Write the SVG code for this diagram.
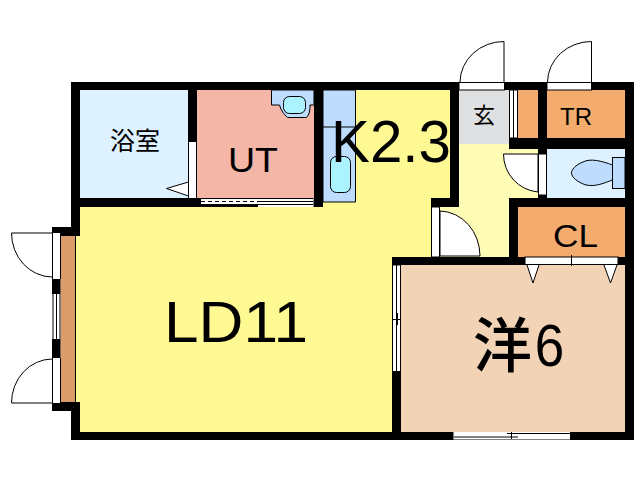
<svg xmlns="http://www.w3.org/2000/svg" width="640" height="480" viewBox="0 0 640 480">
<style>
.w{fill:#000}
.o{fill:#fff}
.l{fill:none;stroke:#000;stroke-width:1}
.d{fill:#fff;stroke:#000;stroke-width:1}
.t{fill:#000;font-family:"Liberation Sans","Noto Sans CJK JP",sans-serif;text-anchor:middle}
.j{font-family:"Noto Sans CJK JP",sans-serif}
</style>
<rect width="640" height="480" fill="#fff"/>
<g id="rooms">
<rect id="bath" x="80" y="90" width="108" height="108" fill="#DDF1FF"/>
<rect id="ut" x="197" y="90" width="117" height="108" fill="#F4B7A7"/>
<path id="ld" d="M76 207H323V90H450V198H431V257H392V432H76Z" fill="#FFF994"/>
<path id="hall" d="M459 144H509V149H538V198H509V257H431V207H459Z" fill="#FFFDB5"/>
<rect id="genkan" x="459" y="90" width="50" height="54" fill="#DFE0E2"/>
<rect id="closet1" x="518" y="90" width="20" height="50" fill="#F4AB6E"/>
<rect id="tr" x="547" y="90" width="78" height="50" fill="#F4AB6E"/>
<rect id="toilet" x="547" y="149" width="78" height="49" fill="#DDF1FF"/>
<rect id="cl" x="518" y="207" width="107" height="50" fill="#F4AB6E"/>
<rect id="west" x="401" y="265" width="224" height="167" fill="#F2D3B6"/>
<rect id="storage" x="60.500" y="236" width="15" height="166" fill="#DB9C6B"/>
<path d="M75.500 236V402" class="l"/>
</g>
<g id="fixtures">
<path d="M323 90H355.500V202H323Z" fill="#BDDCFE" stroke="#000"/>
<path d="M323 127H355.500" class="l"/>
<rect x="330.500" y="156.500" width="20" height="36" rx="6" fill="#ABF3FF" stroke="#000"/>
<path d="M271.500 90V105H279.500C281 111 284 114 287.500 117.500H306.500C309.500 115 310 110 310 105H314V90Z" fill="#BDDCFE" stroke="#000"/>
<rect x="283.500" y="96.500" width="22" height="17" rx="6" fill="#ABF3FF" stroke="#000"/>
<rect x="612.500" y="157.500" width="12.500" height="31" fill="#BDDCFE" stroke="#000"/>
<path d="M612.500 165C602 161 590 158 583 162C575 165 571.500 170 571.500 173C571.500 177 577 182 586 185C596 187 604 183 612.500 180Z" fill="#BDDCFE" stroke="#000"/>
<path d="M188.500 182L166.500 188.500L188.500 196Z" class="d"/>
</g>
<g id="walls" class="w">
<rect x="71" y="82" width="563" height="8"/>
<rect x="625" y="82" width="9" height="358"/>
<rect x="71" y="432" width="563" height="8"/>
<rect x="71" y="82" width="9" height="154"/>
<rect x="71" y="402" width="9" height="38"/>
<rect x="52" y="227" width="28" height="9"/>
<rect x="52" y="402" width="28" height="9"/>
<rect x="52" y="279" width="8.500" height="15"/>
<rect x="52" y="339" width="8.500" height="19"/>
<rect x="188" y="82" width="9" height="60"/>
<rect x="80" y="198" width="243" height="9"/>
<rect x="314" y="82" width="9" height="125"/>
<rect x="450" y="82" width="9" height="125"/>
<rect x="431" y="198" width="28" height="9"/>
<rect x="392" y="257" width="242" height="8"/>
<rect x="392" y="257" width="9" height="183"/>
<rect x="538" y="82" width="9" height="67"/>
<rect x="509" y="138" width="125" height="11"/>
<rect x="509" y="198" width="125" height="9"/>
<rect x="509" y="198" width="9" height="67"/>
<rect x="538" y="149" width="9" height="5"/>
<rect x="538" y="195" width="9" height="4"/>
</g>
<g id="openings">
<rect x="189" y="142" width="8" height="56" class="o"/>
<path d="M188.500 142V198M196.500 142V198" class="l"/>
<rect x="201" y="198" width="112.500" height="9" class="o"/>
<path d="M201 198.500H313M258 201.500H313" class="l"/>
<path d="M201 201.500H258" fill="none" stroke="#000" stroke-dasharray="4 3"/>
<rect x="201" y="204" width="57" height="3" class="w"/>
<path d="M258 204.500H313" class="l"/>
<rect x="453.500" y="432" width="116.500" height="7.500" class="o"/>
<path d="M507 433.500H570M454 437H518M511.500 432V439" class="l"/>
<rect x="459" y="82.500" width="45.500" height="7.500" class="d"/>
<rect x="547" y="82.500" width="44.500" height="7.500" class="d"/>
<rect x="509.500" y="90" width="8" height="48" class="d"/>
<path d="M513.500 90V138" class="l"/>
<rect x="538.500" y="154" width="8" height="41" class="d"/>
<rect x="431.500" y="207" width="8" height="50" class="d"/>
<rect x="525" y="257" width="93" height="7.500" class="d"/>
<path d="M571.500 255V266" class="l"/>
<rect x="392.500" y="265" width="8" height="106.500" class="d"/>
<path d="M396.500 265V371M392.500 319.500H400.500M397.500 313V325" class="l"/>
<rect x="52.500" y="233" width="8" height="46" class="o"/>
<rect x="52.500" y="294" width="8" height="45" class="o"/>
<rect x="52.500" y="358" width="8" height="45" class="o"/>
<path d="M52.500 233V279M60.500 233V279M52.500 358V403M60.500 358V403M53 294V339M56.500 294V339M60 294V339" class="l"/>
</g>
<g id="doors">
<path d="M504 82V41.500A44 41 0 0 0 460 82" class="l"/>
<path d="M591.500 82V41.500A44 41 0 0 0 547.500 82" class="l"/>
<path d="M538 154H503.500A38 38 0 0 0 538 192Z" class="d"/>
<path d="M440 256H480A41 45 0 0 0 440 211Z" class="d"/>
<path d="M52 233H11.500A41 44 0 0 0 52 277" class="l"/>
<path d="M52 403H11.500A41 44 0 0 1 52 359" class="l"/>
<path d="M527 265L533 283L539 265M604 265L610.500 283L617 265" class="d"/>
</g>
<g id="labels">
<text class="t j" x="135" y="150" font-size="25">浴室</text>
<text class="t" x="253" y="172" font-size="35" textLength="50" lengthAdjust="spacingAndGlyphs">UT</text>
<text class="t" x="391" y="162" font-size="60" textLength="120" lengthAdjust="spacingAndGlyphs">K2.3</text>
<text class="t j" x="484" y="123" font-size="22">玄</text>
<text class="t" x="576" y="125" font-size="24">TR</text>
<text class="t" x="575.500" y="247" font-size="32" textLength="45" lengthAdjust="spacingAndGlyphs">CL</text>
<text class="t" x="236" y="342" font-size="58" textLength="144" lengthAdjust="spacingAndGlyphs">LD11</text>
<text class="t j" x="502.500" y="367" font-size="59" font-weight="500">洋</text>
<text class="t" x="549.500" y="366" font-size="59" textLength="29.500" lengthAdjust="spacingAndGlyphs">6</text>
</g>
</svg>
